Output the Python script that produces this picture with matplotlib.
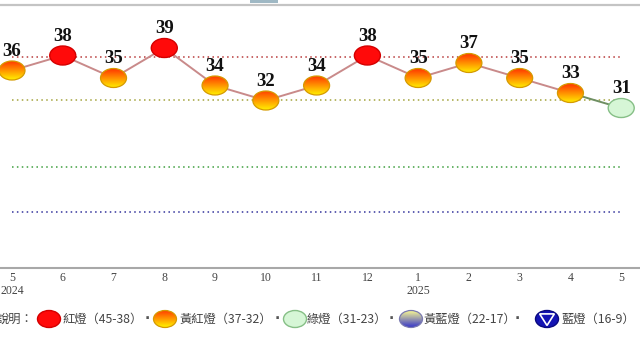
import matplotlib
matplotlib.use("Agg")
import matplotlib.pyplot as plt
import numpy as np
from matplotlib.patches import Ellipse, Polygon, Rectangle
from matplotlib.lines import Line2D

# monthly composite scores (May 2024 - May 2025)
months = ["5", "6", "7", "8", "9", "10", "11", "12", "1", "2", "3", "4", "5"]
years = {0: "2024", 8: "2025"}
scores = [36, 38, 35, 39, 34, 32, 34, 38, 35, 37, 35, 33, 31]

# light bands: lower bound of each band, and where its dotted line sits
bounds = [38, 32, 23, 17]
line_levels = [37.8, 32.1, 23.2, 17.2]
bound_colors = ["#b83a3a", "#a3a33c", "#3f9f3f", "#34349c"]
legend_labels = ["紅燈（45-38）", "黃紅燈（37-32）", "綠燈（31-23）",
                 "黃藍燈（22-17）", "藍燈（16-9）"]
lamp_kinds = ["red", "yellowred", "green", "yellowblue", "blue"]

CJK = ["Noto Sans CJK TC", "DejaVu Sans"]


def kind_of(v):
    if v >= bounds[0]:
        return "red"
    if v >= bounds[1]:
        return "yellowred"
    if v >= bounds[2]:
        return "green"
    if v >= bounds[3]:
        return "yellowblue"
    return "blue"


def gradient(top, bottom, n=64):
    top = np.array(matplotlib.colors.to_rgb(top))
    bottom = np.array(matplotlib.colors.to_rgb(bottom))
    t = np.linspace(0, 1, n)[:, None]
    g = bottom * (1 - t) + top * t
    return g[:, None, :].repeat(2, axis=1)


def draw_lamp(ax, x, y, w, h, kind, z=3):
    if kind == "red":
        ax.add_patch(Ellipse((x, y), w, h, facecolor="#ff0a0a",
                             edgecolor="#d40000", lw=1, zorder=z))
    elif kind == "green":
        ax.add_patch(Ellipse((x, y), w, h, facecolor="#d6f6d6",
                             edgecolor="#86bf86", lw=1, zorder=z))
    elif kind == "blue":
        ax.add_patch(Ellipse((x, y), w, h, facecolor="#1414b4",
                             edgecolor="#0a0a80", lw=1, zorder=z))
        ax.add_patch(Polygon([[x - w * 0.32, y + h * 0.3],
                              [x + w * 0.32, y + h * 0.3],
                              [x, y - h * 0.38]], closed=True,
                             facecolor="none", edgecolor="white",
                             lw=1.2, zorder=z + 0.1))
    else:
        if kind == "yellowred":
            g = gradient("#ff3a00", "#fff000")
            ec = "#d59a00"
        else:
            g = gradient("#ffff90", "#3a3ac8")
            ec = "#7a7ab0"
        el = Ellipse((x, y), w, h, facecolor="none", edgecolor=ec,
                     lw=0.9, zorder=z + 0.1)
        ax.add_patch(el)
        im = ax.imshow(g, extent=[x - w / 2, x + w / 2, y - h / 2, y + h / 2],
                       origin="lower", aspect="auto", zorder=z,
                       interpolation="bilinear")
        im.set_clip_path(el)


fig = plt.figure(figsize=(6.4, 3.6), dpi=100)
ax = fig.add_axes([0, 92 / 360, 1, 268 / 360])

x = np.arange(len(months))

# band boundary lines
for b, c in zip(line_levels, bound_colors):
    ax.plot([x[0], x[-1]], [b, b], color=c, lw=1.1,
            dashes=(1, 2.2), zorder=1)

# connecting line, coloured by the light it leads into
for i in range(1, len(scores)):
    c = "#c98a8a" if kind_of(scores[i]) in ("red", "yellowred") else "#6f8f63"
    ax.plot(x[i - 1:i + 1], scores[i - 1:i + 1], color=c, lw=1.4, zorder=2)

# lamps and labels
xlim = (-0.236, 12.37)
ylim = (9.67, 45.4)
px_x = 640 / (xlim[1] - xlim[0])
px_y = 268 / (ylim[1] - ylim[0])
for xi, v in zip(x, scores):
    draw_lamp(ax, xi, v, 26 / px_x, 19 / px_y, kind_of(v))
    ax.annotate(str(v), (xi, v), xytext=(0, 10.5), textcoords="offset points",
                ha="center", va="baseline", fontsize=13.5, fontweight="bold",
                family="Liberation Serif", color="#111111", zorder=5)

ax.set_xlim(*xlim)
ax.set_ylim(*ylim)
ax.set_xticks(x)
ax.set_xticklabels([m + ("\n" + years[i] if i in years else "")
                    for i, m in enumerate(months)],
                   fontsize=8.5, family="Liberation Serif", color="#444444",
                   linespacing=1.1)
ax.tick_params(axis="x", length=0, pad=3)
ax.set_yticks([])
for s in ["top", "left", "right"]:
    ax.spines[s].set_visible(False)
ax.spines["bottom"].set_color("#a8a8a8")
ax.spines["bottom"].set_linewidth(1.5)
ax.patch.set_alpha(0)

# page frame line at the top
fig.add_artist(Line2D([0, 1], [1 - 5 / 360] * 2, transform=fig.transFigure,
                      color="#c4c4c4", lw=1.6))
fig.add_artist(Rectangle((250 / 640, 1 - 3 / 360), 28 / 640, 3 / 360,
                         transform=fig.transFigure, facecolor="#9fb8c4",
                         edgecolor="none"))

# legend row (pixel coordinates, y measured from the bottom)
lg = fig.add_axes([0, 0, 1, 1])
lg.set_xlim(0, 640)
lg.set_ylim(0, 360)
lg.axis("off")
lg.patch.set_alpha(0)
ly = 360 - 319
lg.text(33, ly, "說明：", ha="right", va="center", fontsize=8.8,
        family=CJK, color="#444444")
lamp_x = [49, 165, 295, 411, 547]
text_x = [62, 180, 307, 423, 561]
sep_x = [147, 277, 391, 517]
for lx, tx, lab, k in zip(lamp_x, text_x, legend_labels, lamp_kinds):
    draw_lamp(lg, lx, ly, 23, 17, k)
    lg.text(tx, ly, lab, ha="left", va="center", fontsize=8.8,
            family=CJK, color="#444444")
for sx in sep_x:
    lg.text(sx, ly, "·", ha="center", va="center", fontsize=10,
            fontweight="bold", color="#555555")
lg.set_xlim(0, 640)
lg.set_ylim(0, 360)

fig.savefig("out.png", dpi=100)
